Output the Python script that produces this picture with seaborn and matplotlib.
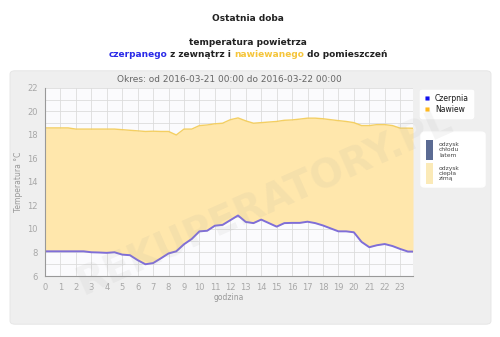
import matplotlib
matplotlib.use("Agg")
import matplotlib.pyplot as plt
import seaborn as sns
import pandas as pd
from matplotlib.patches import FancyBboxPatch, Rectangle
from matplotlib.lines import Line2D

hours = [0, 0.5, 1, 1.5, 2, 2.5, 3, 3.5, 4, 4.5, 5, 5.5, 6, 6.5, 7, 7.5, 8, 8.5, 9, 9.5,
         10, 10.5, 11, 11.5, 12, 12.5, 13, 13.5, 14, 14.5, 15, 15.5, 16, 16.5, 17, 17.5,
         18, 18.5, 19, 19.5, 20, 20.5, 21, 21.5, 22, 22.5, 23, 23.5, 23.83]
czerpnia = [8.1, 8.1, 8.1, 8.1, 8.1, 8.1, 8.02, 8.0, 7.97, 8.02, 7.82, 7.77, 7.35, 7.0, 7.1,
            7.5, 7.92, 8.1, 8.7, 9.15, 9.8, 9.85, 10.28, 10.35, 10.75, 11.15, 10.6, 10.5,
            10.8, 10.5, 10.2, 10.5, 10.52, 10.52, 10.62, 10.5, 10.3, 10.05, 9.8, 9.8, 9.72,
            8.9, 8.45, 8.62, 8.72, 8.55, 8.3, 8.08, 8.08]
nawiew = [18.6, 18.6, 18.6, 18.6, 18.5, 18.5, 18.5, 18.5, 18.5, 18.5, 18.45, 18.4, 18.35,
          18.3, 18.32, 18.3, 18.3, 18.0, 18.5, 18.5, 18.8, 18.85, 18.95, 19.0, 19.3, 19.45,
          19.2, 19.0, 19.05, 19.1, 19.15, 19.25, 19.28, 19.35, 19.43, 19.43, 19.38, 19.3,
          19.22, 19.15, 19.05, 18.8, 18.8, 18.88, 18.88, 18.8, 18.58, 18.58, 18.57]
x_ticks = list(range(0, 24))
y_ticks = [6, 8, 10, 12, 14, 16, 18, 20, 22]

df = pd.DataFrame({"godzina": hours, "Czerpnia": czerpnia, "Nawiew": nawiew})

sns.set_style("white")
plt.rcParams["font.family"] = ["DejaVu Sans"]

fig = plt.figure(figsize=(5.0, 3.37), dpi=100)
fig.patch.set_facecolor("white")

# grey panel
panel = FancyBboxPatch((0.020, 0.038), 0.962, 0.752, boxstyle="round,pad=0,rounding_size=0.01",
                       transform=fig.transFigure, facecolor="#efefef", edgecolor="#e4e4e4",
                       linewidth=0.6, zorder=0)
fig.patches.append(panel)

ax = fig.add_axes([0.09, 0.181, 0.736, 0.558])
ax.set_facecolor("#fbfbfd")
ax.set_zorder(2)

ax.fill_between(df["godzina"], df["Czerpnia"], df["Nawiew"], color="#FFE7AC", linewidth=0, zorder=1)
sns.lineplot(data=df, x="godzina", y="Nawiew", ax=ax, color="#F4CF62", linewidth=1.0, zorder=3)
sns.lineplot(data=df, x="godzina", y="Czerpnia", ax=ax, color="#7F6ED8", linewidth=1.4, zorder=3)

ax.set_xlim(0, 23.83)
ax.set_ylim(6, 22)
ax.set_xticks(x_ticks)
ax.set_yticks(y_ticks)
ax.set_yticks(range(6, 23), minor=True)
ax.set_axisbelow(True)
ax.grid(True, which="major", color="#dcdcdc", linewidth=0.6)
ax.grid(True, which="minor", axis="y", color="#dcdcdc", linewidth=0.6)
ax.tick_params(axis="both", which="major", labelsize=6, labelcolor="#a8a8a8", color="#999999",
               length=3, width=0.6, direction="out", pad=2)
ax.tick_params(axis="y", which="minor", length=0)
for s in ["top", "right"]:
    ax.spines[s].set_visible(False)
for s in ["left", "bottom"]:
    ax.spines[s].set_color("#999999")
    ax.spines[s].set_linewidth(0.8)
    ax.spines[s].set_zorder(4)
ax.set_xlabel("godzina", fontsize=5.5, color="#999999", labelpad=1)
ax.set_ylabel("Temperatura °C", fontsize=5.5, color="#999999", labelpad=3)
ax.set_title("Okres: od 2016-03-21 00:00 do 2016-03-22 00:00", fontsize=6.5, color="#666666", pad=4)

# legends
leg1 = ax.legend(handles=[Line2D([], [], marker="s", color="none", markerfacecolor="#1010ee",
                                 markeredgecolor="none", markersize=3.5, label="Czerpnia"),
                          Line2D([], [], marker="s", color="none", markerfacecolor="#FFB81C",
                                 markeredgecolor="none", markersize=3.5, label="Nawiew")],
                 loc="upper left", bbox_to_anchor=(1.01, 1.01), fontsize=5.5, frameon=True,
                 handlelength=0.8, handletextpad=0.6, borderpad=0.5, labelspacing=0.3)
leg1.get_frame().set_edgecolor("white")
leg1.get_frame().set_facecolor("white")
ax.add_artist(leg1)

box = FancyBboxPatch((0.842, 0.445), 0.128, 0.163, boxstyle="round,pad=0,rounding_size=0.008",
                     transform=fig.transFigure, facecolor="white", edgecolor="white", zorder=1)
fig.patches.append(box)
fig.patches.append(Rectangle((0.852, 0.525), 0.014, 0.06, transform=fig.transFigure,
                             facecolor="#5B6B93", edgecolor="none", zorder=2))
fig.patches.append(Rectangle((0.852, 0.455), 0.014, 0.06, transform=fig.transFigure,
                             facecolor="#FBEAB8", edgecolor="none", zorder=2))
fig.text(0.878, 0.555, "odzysk\nchłodu\nlatem", fontsize=4.3, color="#444444", va="center",
         linespacing=1.1, zorder=3)
fig.text(0.878, 0.485, "odzysk\nciepła\nzimą", fontsize=4.3, color="#444444", va="center",
         linespacing=1.1, zorder=3)

# titles
fig.text(0.496, 0.945, "Ostatnia doba", ha="center", va="center", fontsize=6.5,
         fontweight="bold", color="#222222")
fig.text(0.496, 0.873, "temperatura powietrza", ha="center", va="center", fontsize=6.5,
         fontweight="bold", color="#222222")
parts = [("czerpanego", "#2a2ae8"), (" z zewnątrz i ", "#222222"), ("nawiewanego", "#F5C53A"),
         (" do pomieszczeń", "#222222")]
renderer = fig.canvas.get_renderer()
texts = []
for s, c in parts:
    t = fig.text(0, 0.838, s, va="center", fontsize=6.5, fontweight="bold", color=c)
    texts.append(t)
widths = [t.get_window_extent(renderer).width / fig.bbox.width for t in texts]
x = 0.496 - sum(widths) / 2
for t, w in zip(texts, widths):
    t.set_x(x)
    x += w

# watermark
fig.text(0.53, 0.40, "REKUPERATORY.PL", fontsize=28, fontweight="bold", color="#a0a0a0",
         alpha=0.10, rotation=24, ha="center", va="center", zorder=10)

fig.savefig("out.png", dpi=100)
